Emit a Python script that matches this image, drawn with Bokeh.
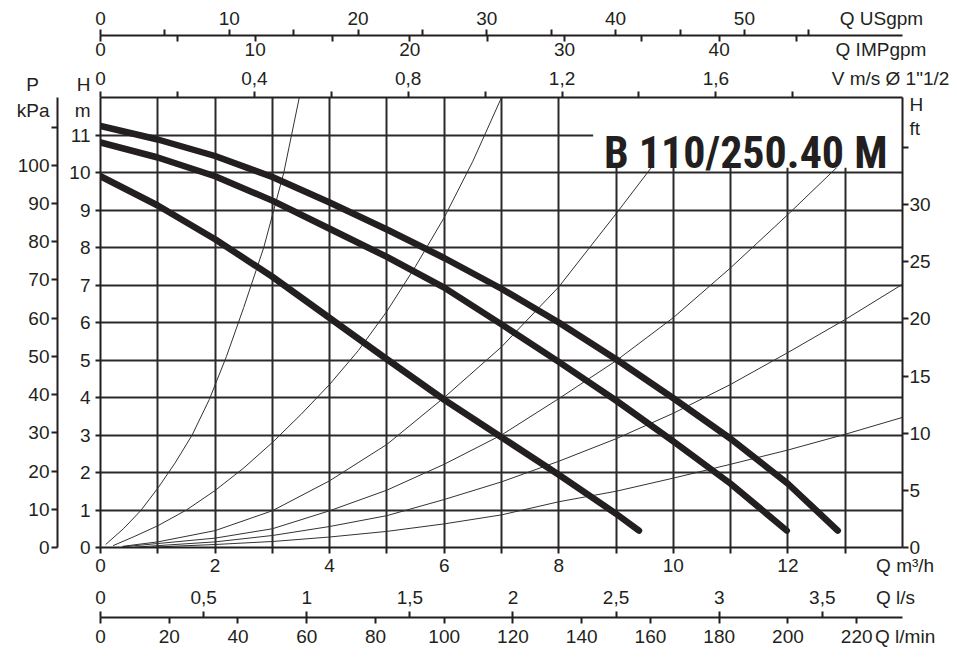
from bokeh.plotting import figure
from bokeh.models import LinearAxis, Range1d, FixedTicker, Label
from bokeh.embed import file_html
from bokeh.resources import INLINE

# ---------------- data ----------------
# pump curves: Q [m3/h] -> H [m]
Q_SPEED3 = [0, 1, 2, 3, 4, 5, 6, 7, 8, 9, 10, 11, 12, 12.87]
H_SPEED3 = [11.24, 10.88, 10.44, 9.88, 9.2, 8.48, 7.72, 6.9, 6.0, 5.02, 3.98, 2.9, 1.7, 0.45]
Q_SPEED2 = [0, 1, 2, 3, 4, 5, 6, 7, 8, 9, 10, 11, 11.98]
H_SPEED2 = [10.8, 10.4, 9.9, 9.25, 8.5, 7.75, 6.93, 5.95, 4.95, 3.92, 2.83, 1.7, 0.45]
Q_SPEED1 = [0, 1, 2, 3, 4, 5, 6, 7, 8, 9, 9.4]
H_SPEED1 = [9.9, 9.12, 8.22, 7.22, 6.12, 5.02, 3.94, 2.94, 1.94, 0.9, 0.45]

# system curves (thin lines)
Q_SYS1 = [0.09, 0.4, 0.7, 1.0, 1.3, 1.6, 1.9, 2.2, 2.5, 2.85, 3.2, 3.47]
H_SYS1 = [0.08, 0.5, 0.98, 1.58, 2.25, 3.0, 3.95, 5.1, 6.4, 8.0, 10.0, 12.0]
Q_SYS2 = [0.22, 0.6, 1.0, 1.5, 2.0, 2.5, 3.0, 3.5, 4.0, 4.5, 5.0, 5.5, 6.0, 6.5, 7.0]
H_SYS2 = [0.05, 0.3, 0.58, 1.0, 1.52, 2.12, 2.8, 3.55, 4.35, 5.25, 6.3, 7.5, 8.8, 10.3, 12.0]
Q_SYS3 = [0.38, 1, 2, 3, 4, 5, 6, 7, 8, 9, 10, 10.5]
H_SYS3 = [0.03, 0.15, 0.45, 0.98, 1.78, 2.75, 4.0, 5.35, 6.95, 8.9, 10.9, 12.0]
Q_SYS4 = [0.4, 2, 3, 4, 5, 6, 7, 8, 9, 10, 11, 12, 13, 14]
H_SYS4 = [0.02, 0.25, 0.5, 0.98, 1.53, 2.22, 3.0, 3.97, 4.98, 6.13, 7.46, 8.88, 10.35, 12.0]
Q_SYS5 = [0.6, 2, 3, 4, 5, 6, 7, 8, 9, 10, 11, 12, 13, 14]
H_SYS5 = [0.01, 0.15, 0.32, 0.56, 0.85, 1.28, 1.75, 2.3, 2.9, 3.58, 4.35, 5.2, 6.08, 7.02]
Q_SYS6 = [0.9, 2, 3, 4, 5, 6, 7, 8, 9, 10, 11, 12, 13, 14]
H_SYS6 = [0.01, 0.08, 0.16, 0.28, 0.43, 0.63, 0.87, 1.22, 1.5, 1.85, 2.22, 2.6, 3.02, 3.47]

# unit conversions (as drawn on the chart)
M3H_PER_USGPM = 0.2248
M3H_PER_IMPGPM = 0.2700
M3H_PER_MS = 6.714
M3H_PER_LS = 3.6
M3H_PER_LMIN = 0.06
KPA_PER_M = 9.81
FT_PER_M = 3.281

Q_MAX = 14
H_MAX = 12

# tick marks and tick labels of each scale
M3H_MARKS = [0, 1, 2, 3, 4, 5, 6, 7, 8, 9, 10, 11, 12, 13]
M3H_LABEL_AT = [0, 2, 4, 6, 8, 10, 12]
LS_LABEL_AT = [0, 0.5, 1, 1.5, 2, 2.5, 3, 3.5]
LS_LABELS = ["0", "0,5", "1", "1,5", "2", "2,5", "3", "3,5"]
LMIN_MARKS = [0, 20, 40, 60, 80, 100, 120, 140, 160, 180, 200, 220]
US_MARKS = [0, 5, 10, 15, 20, 25, 30, 35, 40, 45, 50, 55]
US_LABEL_AT = [0, 10, 20, 30, 40, 50]
IMP_MARKS = [0, 5, 10, 15, 20, 25, 30, 35, 40, 45]
IMP_LABEL_AT = [0, 10, 20, 30, 40]
V_MARKS = [0, 0.2, 0.4, 0.6, 0.8, 1.0, 1.2, 1.4, 1.6, 1.8]
V_LABEL_AT = [0, 0.4, 0.8, 1.2, 1.6]
V_LABELS = ["0", "0,4", "0,8", "1,2", "1,6"]
H_MARKS = [0, 1, 2, 3, 4, 5, 6, 7, 8, 9, 10, 11]
KPA_MARKS = [0, 10, 20, 30, 40, 50, 60, 70, 80, 90, 100, 110]
KPA_LABEL_AT = [0, 10, 20, 30, 40, 50, 60, 70, 80, 90, 100]
FT_MARKS = [0, 5, 10, 15, 20, 25, 30, 35]
FT_LABEL_AT = [0, 5, 10, 15, 20, 25, 30]

NB = "\u00a0"
# scale names (placed on their scales)
TXT_M3H = NB + "Q m³/h"
TXT_LS = "Q l/s"
TXT_LMIN = NB + "Q l/min"
TXT_US = "Q USgpm"
TXT_IMP = "Q IMPgpm"
TXT_V = "V m/s Ø 1\"1/2"
TXT_KPA = "P" + NB + NB + "\nkPa"
TXT_HM = "H\nm"
TXT_FT = "ft"
TXT_HFT = "H"
TITLE = "B 110/250.40 M"

# ---------------- styling ----------------
INK = "#231f20"
FONT = "Liberation Sans"
FS = "19px"

W, HGT = 956, 668
p = figure(width=W, height=HGT,
           x_range=Range1d(0, Q_MAX), y_range=Range1d(0, H_MAX),
           output_backend="svg", toolbar_location=None,
           min_border_left=100, min_border_right=54,
           min_border_top=97, min_border_bottom=121,
           x_axis_location="below", y_axis_location="left")
p.outline_line_color = None
p.background_fill_color = "white"
p.border_fill_color = "white"

US_END = Q_MAX / M3H_PER_USGPM
IMP_END = Q_MAX / M3H_PER_IMPGPM
V_END = Q_MAX / M3H_PER_MS
LS_END = Q_MAX / M3H_PER_LS
LMIN_END = Q_MAX / M3H_PER_LMIN
KPA_END = H_MAX * KPA_PER_M
FT_END = H_MAX * FT_PER_M

p.extra_x_ranges = {
    "us": Range1d(0, US_END),
    "imp": Range1d(0, IMP_END),
    "v": Range1d(0, V_END),
    "ls": Range1d(0, LS_END),
    "lmin": Range1d(0, LMIN_END),
}
p.extra_y_ranges = {
    "kpa": Range1d(0, KPA_END),
    "ft": Range1d(0, FT_END),
}


def num(v):
    s = ("%g" % v)
    return s.replace(".", ",")


def setup(ax, label_at, labels, marks=None, marks_in=False, standoff=4,
          line=True, tick_len=6):
    """labels sit on the major ticks (no mark), marks are drawn as minor ticks"""
    ax.ticker = FixedTicker(ticks=list(label_at), minor_ticks=list(marks or []))
    ax.major_label_overrides = {t: l for t, l in zip(label_at, labels)}
    ax.axis_line_width = 2
    ax.axis_line_color = INK if line else None
    ax.major_tick_in = 0
    ax.major_tick_out = 0
    ax.minor_tick_line_width = 2
    ax.minor_tick_line_color = INK
    ax.minor_tick_in = 0
    ax.minor_tick_out = 0
    if marks:
        if marks_in:
            ax.minor_tick_in = tick_len
        else:
            ax.minor_tick_out = tick_len
    ax.major_label_text_font = FONT
    ax.major_label_text_font_size = FS
    ax.major_label_text_color = INK
    ax.major_label_standoff = standoff


def pad(ax, px):
    ax.axis_label = " "
    ax.axis_label_text_font_size = "2px"
    ax.axis_label_standoff = px


# ---- bottom: m3/h
xa = p.xaxis[0]
setup(xa, M3H_LABEL_AT + [Q_MAX], [num(v) for v in M3H_LABEL_AT] + [TXT_M3H],
      marks=M3H_MARKS, standoff=1)

# ---- bottom: l/s labels (no line, no marks)
ls_ax = LinearAxis(x_range_name="ls")
setup(ls_ax, LS_LABEL_AT + [3.855], LS_LABELS + [TXT_LS], line=False, standoff=8)
pad(ls_ax, 2)
p.add_layout(ls_ax, "below")

# ---- bottom: l/s marks pointing up (zero-height axis on the l/min line)
lsm_ax = LinearAxis(x_range_name="ls")
setup(lsm_ax, [], [], marks=LS_LABEL_AT, marks_in=True, line=False, standoff=0)
lsm_ax.major_label_text_font_size = "0px"
p.add_layout(lsm_ax, "below")

# ---- bottom: l/min
lmin_ax = LinearAxis(x_range_name="lmin")
setup(lmin_ax, LMIN_MARKS + [LMIN_END], [num(v) for v in LMIN_MARKS] + [TXT_LMIN],
      marks=LMIN_MARKS, standoff=2)
p.add_layout(lmin_ax, "below")

# ---- top: V m/s (on the frame)
v_ax = LinearAxis(x_range_name="v")
setup(v_ax, V_LABEL_AT + [2.054], V_LABELS + [TXT_V], marks=V_MARKS, standoff=3)
p.add_layout(v_ax, "above")

# ---- top: IMPgpm labels
imp_ax = LinearAxis(x_range_name="imp")
setup(imp_ax, IMP_LABEL_AT + [50.46], [num(v) for v in IMP_LABEL_AT] + [TXT_IMP],
      line=False, standoff=5)
p.add_layout(imp_ax, "above")

# ---- top: IMPgpm marks hanging down from the USgpm line (zero-height axis)
impm_ax = LinearAxis(x_range_name="imp")
setup(impm_ax, [], [], marks=IMP_MARKS, marks_in=True, line=False, standoff=0)
impm_ax.major_label_text_font_size = "0px"
p.add_layout(impm_ax, "above")

# ---- top: USgpm
us_ax = LinearAxis(x_range_name="us")
setup(us_ax, US_LABEL_AT + [60.64], [num(v) for v in US_LABEL_AT] + [TXT_US],
      marks=US_MARKS, standoff=1)
p.add_layout(us_ax, "above")

# ---- left: H m  (label "11" padded with no-break spaces to set the column width)
H_LABELS = [num(v) for v in H_MARKS]
H_LABELS[-1] = NB * 2 + H_LABELS[-1]
ya = p.yaxis[0]
setup(ya, H_MARKS + [H_MAX], H_LABELS + [TXT_HM],
      marks=H_MARKS, standoff=5, tick_len=5)

# ---- left: P kPa
kpa_ax = LinearAxis(y_range_name="kpa")
setup(kpa_ax, KPA_LABEL_AT + [KPA_END], [num(v) for v in KPA_LABEL_AT] + [TXT_KPA],
      marks=KPA_MARKS, standoff=2)
p.add_layout(kpa_ax, "left")

# ---- right: H ft
ft_ax = LinearAxis(y_range_name="ft")
setup(ft_ax, FT_LABEL_AT + [36.66, 38.76], [num(v) for v in FT_LABEL_AT] + [TXT_FT, TXT_HFT],
      marks=FT_MARKS, standoff=1)
p.add_layout(ft_ax, "right")

# ---- grid
p.xgrid.ticker = FixedTicker(ticks=list(range(0, Q_MAX + 1)))
p.ygrid.ticker = FixedTicker(ticks=list(range(0, H_MAX + 1)))
for g in (p.xgrid[0], p.ygrid[0]):
    g.grid_line_color = "#2a2a2a"
    g.grid_line_width = 2

# ---- system curves
for qs, hs in [(Q_SYS1, H_SYS1), (Q_SYS2, H_SYS2), (Q_SYS3, H_SYS3),
               (Q_SYS4, H_SYS4), (Q_SYS5, H_SYS5), (Q_SYS6, H_SYS6)]:
    p.line(qs, hs, line_width=1, line_color="#333333")

# ---- title box
p.quad(left=[8.6], right=[Q_MAX], bottom=[10.13], top=[H_MAX],
       fill_color="white", line_color=None)

# ---- pump curves
for qs, hs in [(Q_SPEED3, H_SPEED3), (Q_SPEED2, H_SPEED2), (Q_SPEED1, H_SPEED1)]:
    p.line(qs, hs, line_width=6.5, line_color=INK, line_cap="round", line_join="round")

p.add_layout(Label(x=13.74, y=10.53, text=TITLE, text_align="right",
                   text_baseline="alphabetic",
                   text_font="'Roboto Condensed', 'DejaVu Sans Condensed', 'Liberation Sans'",
                   text_font_size="44px", text_font_style="bold", text_color=INK))

open("out.html", "w").write(file_html(p, INLINE))
